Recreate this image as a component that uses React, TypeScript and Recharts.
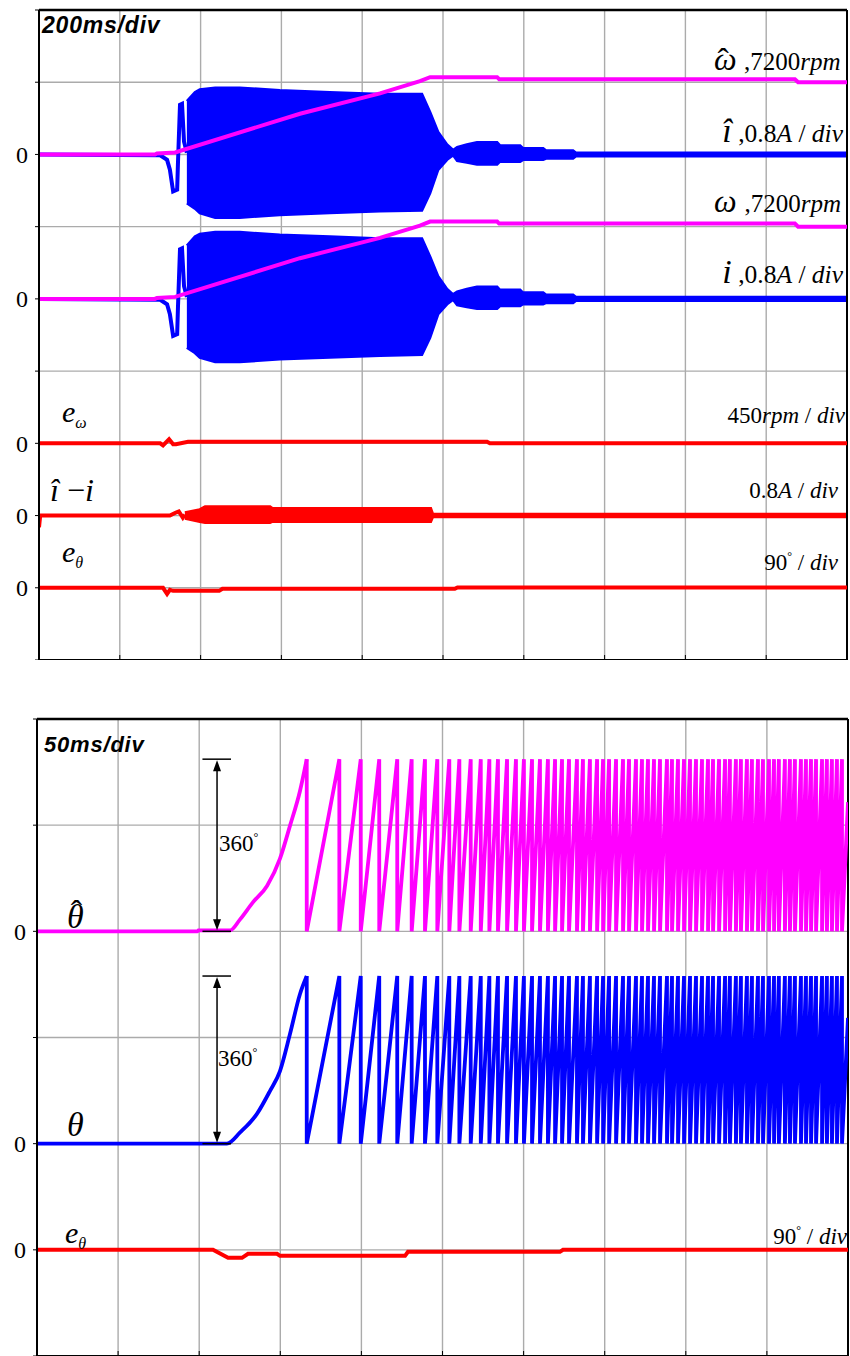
import React from "react";
import {
  ComposedChart,
  Line,
  Area,
  XAxis,
  YAxis,
  CartesianGrid,
  ReferenceLine,
} from "recharts";

// ---------- top panel: 200 ms/div ----------
const topTimeTicks = [0, 200, 400, 600, 800, 1000, 1200, 1400, 1600, 1800, 2000];
const topDivTicks = [0, 1, 2, 3, 4, 5, 6, 7, 8, 9];
const topZeroLevels = [1, 2, 3, 5, 7];

// speed (estimated and measured look the same), rpm
const speedTimeMs = [0, 287, 292, 337, 646, 844, 943, 968, 1134, 1139, 1871, 1879, 2000];
const speedRpm = [0, 0, 100, 200, 4056, 6085, 7300, 7707, 7707, 7504, 7504, 7200, 7200];

// phase current, start-up transient (A)
const currentTimeMs = [0, 300, 317, 324, 332, 342, 344, 349, 354, 359, 366];
const currentA = [0, -0.01, -0.06, -0.17, -0.41, -0.39, -0.09, 0.55, 0.56, 0.14, 0.02];

// phase current envelope while oscillating (A)
const currentEnvTimeMs = [366, 386, 398, 436, 497, 596, 720, 844, 948, 968, 988, 1010, 1025, 1035, 1059, 1084, 1134, 1141, 1191, 1198, 1248, 1255, 1322, 1329, 2000];
const currentEnvLowA = [-0.54, -0.6, -0.65, -0.7, -0.7, -0.67, -0.65, -0.63, -0.62, -0.43, -0.17, -0.06, -0.01, -0.07, -0.09, -0.11, -0.11, -0.08, -0.08, -0.06, -0.06, -0.045, -0.045, -0.02, -0.02];
const currentEnvHighA = [0.59, 0.69, 0.72, 0.74, 0.74, 0.71, 0.69, 0.67, 0.67, 0.47, 0.25, 0.11, 0.05, 0.08, 0.11, 0.135, 0.135, 0.1, 0.1, 0.07, 0.07, 0.045, 0.045, 0.02, 0.02];

// speed error e_w (rpm)
const speedErrTimeMs = [0, 300, 307, 322, 332, 339, 369, 1109, 1116, 2000];
const speedErrRpm = [0, 0, -13, 25, -6, -6, 10, 10, 0, 0];

// current error i^ - i (A)
const curErrTimeMs = [0, 3, 300, 324, 339, 346, 356, 361];
const curErrA = [-0.13, 0, 0, 0, 0.034, 0.045, -0.023, 0.01];
const curErrEnvTimeMs = [361, 398, 411, 572, 578, 970, 975, 2000];
const curErrEnvLowA = [-0.034, -0.068, -0.08, -0.08, -0.068, -0.068, -0.017, -0.017];
const curErrEnvHighA = [0.034, 0.068, 0.1, 0.1, 0.08, 0.08, 0.017, 0.017];

// angle error e_theta, top panel (deg)
const angErrTimeMs = [0, 307, 317, 324, 332, 446, 454, 1029, 1036, 2000];
const angErrDeg = [0, 0, -7.6, -2.5, -3.8, -3.8, -1.3, -1.3, 0.5, 0.5];

// ---------- bottom panel: 50 ms/div ----------
const botTimeTicks = [0, 50, 100, 150, 200, 250, 300, 350, 400, 450, 500];
const botDivTicks = [0, 1, 2, 3, 4, 5, 6];
const botZeroLevels = [1, 2, 4];

// estimated rotor angle, first revolution (deg)
const thetaEstRiseMs = [0, 99, 99.5, 119, 125.2, 133.2, 141.8, 149.8, 156.0, 162.1, 166.3];
const thetaEstRiseDeg = [0, 0, 2, 2, 25, 61, 95, 152, 221, 293, 360];
// measured rotor angle, first revolution (deg)
const thetaRiseMs = [0, 117.1, 125.2, 135.6, 143.6, 149.8, 156.0, 162.1, 166.3];
const thetaRiseDeg = [0, 0, 24, 64, 113, 156, 236, 321, 360];
// instants where the angle wraps 360 -> 0 (ms)
const wrapTimesMs = [
  166.3, 186.4, 199.6, 211.0, 222.1, 231.0, 239.2, 246.8, 254.2, 260.4, 267.4, 273.6,
  278.9, 284.2, 289.8, 295.3, 300.2, 305.2, 310.1, 315.0, 319.4, 323.7, 328.0, 332.9,
  336.6, 340.9, 345.3, 349.0, 352.7, 357.0, 361.3, 365.0, 369.3, 373.0, 376.7, 380.4,
  384.1, 388.4, 391.5, 395.2, 398.9, 402.6, 406.3, 410.0, 413.7, 416.8, 420.5, 424.2,
  427.2, 430.9, 434.0, 437.7, 440.8, 444.5, 447.6, 451.3, 454.4, 457.4, 461.1, 464.2,
  467.3, 471.0, 474.1, 477.2, 480.3, 484.0, 487.0, 490.1, 493.2, 496.3,
];
const thetaEndDeg = 270;

// angle error e_theta, bottom panel (deg)
const angErr2TimeMs = [0, 108.5, 117.8, 126.4, 130.1, 148, 149.8, 226.9, 228.7, 322.4, 324.3, 500];
const angErr2Deg = [0, 0, -6.8, -6.8, -3.4, -3.4, -5.1, -5.1, -1.7, -1.7, 0, 0];

// ---------- scales (units per division) ----------
const RPM_DIV = 7200;
const AMP_DIV = 0.8;
const ERR_RPM_DIV = 450;
const ERR_DEG_DIV = 90;
const THETA_EST_DIV = 222;
const THETA_DIV = 228;

const MAGENTA = "#ff00ff";
const BLUE = "#0000ff";
const RED = "#ff0000";
const GRID = "#ababab";
const SERIF = "'Liberation Serif', 'Times New Roman', serif";
const SANS = "'Liberation Sans', Arial, sans-serif";

type Pt = { t: number; y: number };
type BandPt = { t: number; y: [number, number] };

const trace = (ts: number[], vs: number[], offset: number, perDiv: number): Pt[] =>
  ts.map((t, i) => ({ t, y: offset + vs[i] / perDiv }));

const band = (ts: number[], lo: number[], hi: number[], offset: number, perDiv: number): BandPt[] =>
  ts.map((t, i) => ({ t, y: [offset + lo[i] / perDiv, offset + hi[i] / perDiv] }));

// ramps 0 -> 360 between successive wrap instants
const sawtooth = (offset: number, perDiv: number): Pt[] => {
  const pts: Pt[] = [];
  wrapTimesMs.forEach((t) => {
    pts.push({ t, y: offset + 360 / perDiv });
    pts.push({ t, y: offset });
  });
  pts.push({ t: 500, y: offset + thetaEndDeg / perDiv });
  return pts;
};

// double-headed arrow for the 360 deg annotation
const ArrowShape = (props: any) => {
  const { x1, y1, x2, y2 } = props;
  const top = Math.min(y1, y2);
  const bot = Math.max(y1, y2);
  return (
    <g>
      <line x1={x1} y1={top + 8} x2={x2} y2={bot - 8} stroke="#000" strokeWidth={1.5} />
      <polygon points={`${x1 - 4},${top + 12} ${x1 + 4},${top + 12} ${x1},${top + 1}`} fill="#000" />
      <polygon points={`${x1 - 4},${bot - 12} ${x1 + 4},${bot - 12} ${x1},${bot - 1}`} fill="#000" />
    </g>
  );
};

const axisLine = { stroke: "#000", strokeWidth: 2 };
const tickStyle = { fontFamily: SERIF, fontSize: 24, fill: "#000" };
const LW = 4;

function TopPanel() {
  const lp = { type: "linear" as const, dot: false, isAnimationActive: false, dataKey: "y" };
  return (
    <ComposedChart width={850} height={660} margin={{ top: 10, right: 3, bottom: 0, left: 0 }}>
      <CartesianGrid stroke={GRID} strokeWidth={1.4} />
      <XAxis type="number" dataKey="t" domain={[0, 2000]} ticks={topTimeTicks} interval={0} allowDataOverflow
        tickFormatter={() => ""} mirror tickSize={5} height={12} axisLine={axisLine} tickLine={{ stroke: "#000" }} />
      <YAxis type="number" domain={[0, 9]} ticks={topDivTicks} interval={0} allowDataOverflow width={39}
        tickFormatter={(v: number) => (topZeroLevels.includes(v) ? "0" : "")}
        tick={tickStyle} tickSize={4} tickMargin={7} axisLine={axisLine} tickLine={{ stroke: "#000" }} />
      <ReferenceLine y={9} stroke="#000" strokeWidth={2.5} />
      <ReferenceLine x={2000} stroke="#000" strokeWidth={2} />

      {/* estimated speed / current */}
      <Line {...lp} data={trace(currentTimeMs, currentA, 7, AMP_DIV)} stroke={BLUE} strokeWidth={LW} />
      <Area data={band(currentEnvTimeMs, currentEnvLowA, currentEnvHighA, 7, AMP_DIV)} dataKey="y" type="linear"
        fill={BLUE} fillOpacity={1} stroke={BLUE} strokeWidth={2.5} isAnimationActive={false} />
      <Line {...lp} data={trace(speedTimeMs, speedRpm, 7, RPM_DIV)} stroke={MAGENTA} strokeWidth={LW} />

      {/* measured speed / current */}
      <Line {...lp} data={trace(currentTimeMs, currentA, 5, AMP_DIV)} stroke={BLUE} strokeWidth={LW} />
      <Area data={band(currentEnvTimeMs, currentEnvLowA, currentEnvHighA, 5, AMP_DIV)} dataKey="y" type="linear"
        fill={BLUE} fillOpacity={1} stroke={BLUE} strokeWidth={2.5} isAnimationActive={false} />
      <Line {...lp} data={trace(speedTimeMs, speedRpm, 5, RPM_DIV)} stroke={MAGENTA} strokeWidth={LW} />

      {/* errors */}
      <Line {...lp} data={trace(speedErrTimeMs, speedErrRpm, 3, ERR_RPM_DIV)} stroke={RED} strokeWidth={LW} />
      <Line {...lp} data={trace(curErrTimeMs, curErrA, 2, AMP_DIV)} stroke={RED} strokeWidth={LW} />
      <Area data={band(curErrEnvTimeMs, curErrEnvLowA, curErrEnvHighA, 2, AMP_DIV)} dataKey="y" type="linear"
        fill={RED} fillOpacity={1} stroke={RED} strokeWidth={2.5} isAnimationActive={false} />
      <Line {...lp} data={trace(angErrTimeMs, angErrDeg, 1, ERR_DEG_DIV)} stroke={RED} strokeWidth={LW} />
    </ComposedChart>
  );
}

function BottomPanel() {
  const lp = { dot: false, isAnimationActive: false, dataKey: "y" };
  const estTop = 4 + 360 / THETA_EST_DIV;
  const measTop = 2 + 360 / THETA_DIV;
  return (
    <ComposedChart width={850} height={647} margin={{ top: 10, right: 2, bottom: 0, left: 0 }}>
      <CartesianGrid stroke={GRID} strokeWidth={1.4} />
      <XAxis type="number" dataKey="t" domain={[0, 500]} ticks={botTimeTicks} interval={0} allowDataOverflow
        tickFormatter={() => ""} mirror tickSize={5} height={4} axisLine={axisLine} tickLine={{ stroke: "#000" }} />
      <YAxis type="number" domain={[0, 6]} ticks={botDivTicks} interval={0} allowDataOverflow width={37}
        tickFormatter={(v: number) => (botZeroLevels.includes(v) ? "0" : "")}
        tick={tickStyle} tickSize={4} tickMargin={7} axisLine={axisLine} tickLine={{ stroke: "#000" }} />
      <ReferenceLine y={6} stroke="#000" strokeWidth={2.5} />
      <ReferenceLine x={500} stroke="#000" strokeWidth={2} />

      <Line {...lp} type="monotone" data={trace(thetaEstRiseMs, thetaEstRiseDeg, 4, THETA_EST_DIV)} stroke={MAGENTA} strokeWidth={3.8} />
      <Line {...lp} type="linear" data={sawtooth(4, THETA_EST_DIV)} stroke={MAGENTA} strokeWidth={3.8} />
      <Line {...lp} type="monotone" data={trace(thetaRiseMs, thetaRiseDeg, 2, THETA_DIV)} stroke={BLUE} strokeWidth={3.8} />
      <Line {...lp} type="linear" data={sawtooth(2, THETA_DIV)} stroke={BLUE} strokeWidth={3.8} />
      <Line {...lp} type="linear" data={trace(angErr2TimeMs, angErr2Deg, 1, ERR_DEG_DIV)} stroke={RED} strokeWidth={LW} />

      {/* 360 deg annotations */}
      <ReferenceLine segment={[{ x: 102, y: estTop }, { x: 119.6, y: estTop }]} stroke="#000" strokeWidth={1.5} />
      <ReferenceLine segment={[{ x: 102, y: 4 }, { x: 119.6, y: 4 }]} stroke="#000" strokeWidth={1.5} />
      <ReferenceLine segment={[{ x: 111, y: 4 }, { x: 111, y: estTop }]} shape={ArrowShape} />
      <ReferenceLine segment={[{ x: 102, y: measTop }, { x: 119.6, y: measTop }]} stroke="#000" strokeWidth={1.5} />
      <ReferenceLine segment={[{ x: 102, y: 2 }, { x: 119.6, y: 2 }]} stroke="#000" strokeWidth={1.5} />
      <ReferenceLine segment={[{ x: 111, y: 2 }, { x: 111, y: measTop }]} shape={ArrowShape} />
    </ComposedChart>
  );
}

const Deg = () => (
  <tspan fontSize={12} dy={-10}>
    {"\u00B0"}
  </tspan>
);

function Labels() {
  const it = { fontStyle: "italic" as const };
  // hats are drawn as a raised tspan inside the same text element
  return (
    <svg width={850} height={1356} style={{ position: "absolute", left: 0, top: 0, pointerEvents: "none" }}
      fontFamily={SERIF} fill="#000">
      <text x={42} y={33} fontFamily={SANS} fontWeight="bold" fontStyle="italic" fontSize={23} letterSpacing={0.8}>200ms/div</text>

      <text x={714} y={70} fontSize={25}>
        <tspan {...it} fontSize={32}>{"\u03C9"}</tspan>
        <tspan fontSize={34} dx={-19} dy={2}>{"\u02C6"}</tspan>
        <tspan dx={15} dy={-2}>,7200</tspan><tspan {...it}>rpm</tspan>
      </text>
      <text x={843} y={142} textAnchor="end" fontSize={25.5}>
        <tspan {...it} fontSize={34}>{"i\u0302"}</tspan> ,0.8<tspan {...it}>A</tspan> / <tspan {...it}>div</tspan>
      </text>
      <text x={714} y={212} fontSize={25}>
        <tspan {...it} fontSize={32}>{"\u03C9"}</tspan>
        <tspan dx={8}>,7200</tspan><tspan {...it}>rpm</tspan>
      </text>
      <text x={843} y={283} textAnchor="end" fontSize={25.5}>
        <tspan {...it} fontSize={34}>i</tspan> ,0.8<tspan {...it}>A</tspan> / <tspan {...it}>div</tspan>
      </text>

      <text x={62} y={422} {...it} fontSize={30}>
        e<tspan fontSize={16} dy={6}>{"\u03C9"}</tspan>
      </text>
      <text x={845} y={423} textAnchor="end" fontSize={23}>
        450<tspan {...it}>rpm</tspan> / <tspan {...it}>div</tspan>
      </text>

      <text x={50} y={501} fontSize={32}>
        <tspan {...it}>{"i\u0302"}</tspan>{" \u2212"}<tspan {...it}>i</tspan>
      </text>
      <text x={838} y={498} textAnchor="end" fontSize={23}>
        0.8<tspan {...it}>A</tspan> / <tspan {...it}>div</tspan>
      </text>

      <text x={62} y={562} {...it} fontSize={30}>
        e<tspan fontSize={16} dy={6}>{"\u03B8"}</tspan>
      </text>
      <text x={838} y={570} textAnchor="end" fontSize={23}>
        90<Deg /><tspan dy={10}> / </tspan><tspan {...it}>div</tspan>
      </text>

      <text x={44} y={752} fontFamily={SANS} fontWeight="bold" fontStyle="italic" fontSize={22} letterSpacing={0.8}>50ms/div</text>
      <text x={219} y={851} fontSize={23}>360<Deg /></text>
      <text x={67} y={928} fontSize={34}>
        <tspan {...it}>{"\u03B8"}</tspan>
        <tspan dx={-13} dy={-4}>{"\u02C6"}</tspan>
      </text>
      <text x={218} y={1066} fontSize={23}>360<Deg /></text>
      <text x={67} y={1136} {...it} fontSize={34}>{"\u03B8"}</text>
      <text x={65} y={1243} {...it} fontSize={30}>
        e<tspan fontSize={16} dy={6}>{"\u03B8"}</tspan>
      </text>
      <text x={847} y={1244} textAnchor="end" fontSize={23}>
        90<Deg /><tspan dy={10}> / </tspan><tspan {...it}>div</tspan>
      </text>
    </svg>
  );
}

export default function App() {
  return (
    <div style={{ position: "absolute", left: 0, top: 0, width: 850, height: 1356, background: "#fff", overflow: "hidden" }}>
      <div style={{ position: "absolute", left: 0, top: 0 }}>
        <TopPanel />
      </div>
      <div style={{ position: "absolute", left: 0, top: 709 }}>
        <BottomPanel />
      </div>
      <Labels />
    </div>
  );
}
